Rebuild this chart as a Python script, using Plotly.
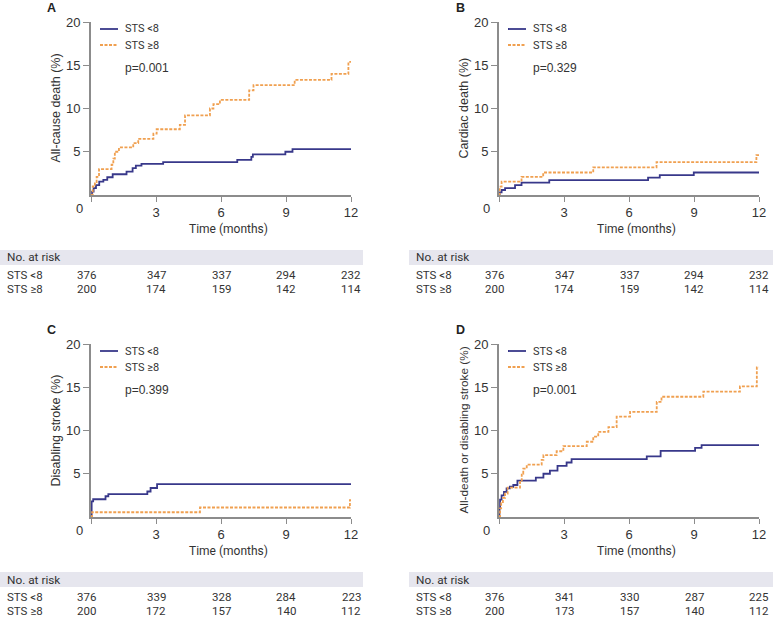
import plotly.graph_objects as go

W, H = 773, 617

# ---------------- data ----------------
months = [0, 3, 6, 9, 12]
groups = ["STS <8", "STS \u22658"]

A_low_t = [0, 0.05, 0.12, 0.23, 0.38, 0.57, 0.75, 1.0, 1.64, 1.92, 2.07, 2.33, 3.33, 6.75, 7.4, 7.47, 8.97, 9.3, 12]
A_low_v = [0, 0.4, 0.8, 1.15, 1.55, 1.75, 2.05, 2.4, 2.7, 3.1, 3.4, 3.6, 3.8, 4.05, 4.4, 4.7, 5.0, 5.3, 5.3]
A_high_t = [0, 0.08, 0.18, 0.26, 0.37, 0.95, 1.03, 1.1, 1.29, 1.95, 2.18, 2.88, 3.03, 4.1, 4.34, 5.49, 5.65, 5.95, 7.3, 7.5, 9.4, 11.1, 11.88, 12]
A_high_v = [0, 1.0, 1.5, 2.1, 3.0, 3.5, 4.2, 5.0, 5.5, 6.0, 6.5, 7.1, 7.6, 8.1, 9.2, 10.0, 10.5, 11.0, 12.1, 12.7, 13.3, 14.0, 15.4, 15.4]

B_low_t = [0, 0.03, 0.12, 0.28, 0.74, 1.04, 2.32, 6.88, 7.42, 8.99, 12]
B_low_v = [0, 0.3, 0.58, 0.8, 1.15, 1.42, 1.73, 2.0, 2.3, 2.6, 2.6]
B_high_t = [0, 0.03, 0.12, 1.04, 2.04, 4.35, 7.27, 11.88, 12]
B_high_v = [0, 0.96, 1.54, 2.1, 2.6, 3.2, 3.8, 4.6, 4.6]

C_low_t = [0, 0.03, 0.1, 0.67, 0.8, 2.6, 2.75, 3.05, 12]
C_low_v = [0, 1.8, 2.05, 2.4, 2.65, 2.95, 3.35, 3.8, 3.8]
C_high_t = [0, 0.05, 5.03, 11.95, 12]
C_high_v = [0, 0.55, 1.1, 1.95, 1.95]

D_low_t = [0, 0.02, 0.05, 0.12, 0.23, 0.35, 0.5, 0.66, 0.85, 1.7, 2.05, 2.35, 2.7, 3.12, 3.35, 6.82, 7.46, 9.05, 9.35, 12]
D_low_v = [0, 1.0, 2.0, 2.5, 2.9, 3.3, 3.5, 3.7, 4.2, 4.55, 5.0, 5.35, 5.9, 6.3, 6.7, 7.0, 7.65, 8.0, 8.3, 8.3]
D_high_t = [0, 0.05, 0.1, 0.18, 0.28, 0.4, 0.97, 1.05, 1.12, 1.28, 1.97, 2.05, 2.66, 2.97, 4.05, 4.35, 4.58, 5.05, 5.43, 6.05, 7.28, 7.5, 9.43, 11.12, 11.9, 12]
D_high_v = [0, 1.0, 1.6, 2.2, 2.7, 3.4, 4.2, 5.0, 5.6, 6.05, 6.6, 7.15, 7.6, 8.2, 8.7, 9.3, 9.85, 10.4, 11.6, 12.15, 13.3, 13.9, 14.5, 15.1, 17.3, 17.3]

A_risk_low = [376, 347, 337, 294, 232]
A_risk_high = [200, 174, 159, 142, 114]
B_risk_low = [376, 347, 337, 294, 232]
B_risk_high = [200, 174, 159, 142, 114]
C_risk_low = [376, 339, 328, 284, 223]
C_risk_high = [200, 172, 157, 140, 112]
D_risk_low = [376, 341, 330, 287, 225]
D_risk_high = [200, 173, 157, 140, 112]

letters = ["A", "B", "C", "D"]
ytitles = ["All-cause death (%)", "Cardiac death (%)", "Disabling stroke (%)",
           "All-death or disabling stroke (%)"]
pvalues = ["p=0.001", "p=0.329", "p=0.399", "p=0.001"]

# ---------------- styling ----------------
BLUE = "#38388a"
ORANGE = "#f0a050"
AXIS = "#8c8c8c"
TXT = "#333333"
BAND = "#e6e6ee"
FONT = "Liberation Sans, Arial, sans-serif"
TFONT = "Roboto, Liberation Sans, sans-serif"

def px(x):
    return x / W

def py(y):
    return (H - y) / H

def ann(x, y, text, size, family=FONT, xanchor="center", xref="paper", **kw):
    d = dict(x=x, y=y, xref=xref, yref="paper", text=text, showarrow=False,
             xanchor=xanchor, yanchor="middle",
             font=dict(family=family, size=size, color=kw.pop("color", TXT)))
    d.update(kw)
    return d

# panel geometry (pixels): x of axis origin, x of 12 months, y of 0%, y of 20%
panels = [
    dict(x0=91, x1=351, y0=195, y1=22, band=(0, 363), lab=5),
    dict(x0=499, x1=759, y0=195, y1=22, band=(409, 773), lab=414),
    dict(x0=91, x1=351, y0=517, y1=344, band=(0, 363), lab=5),
    dict(x0=499, x1=759, y0=517, y1=344, band=(409, 773), lab=414),
]
series = [
    (A_low_t, A_low_v, A_high_t, A_high_v, A_risk_low, A_risk_high),
    (B_low_t, B_low_v, B_high_t, B_high_v, B_risk_low, B_risk_high),
    (C_low_t, C_low_v, C_high_t, C_high_v, C_risk_low, C_risk_high),
    (D_low_t, D_low_v, D_high_t, D_high_v, D_risk_low, D_risk_high),
]

fig = go.Figure()
annotations = []
shapes = []
layout_axes = {}

for i, (p, s) in enumerate(zip(panels, series)):
    n = i + 1
    xa = "x" if n == 1 else f"x{n}"
    ya = "y" if n == 1 else f"y{n}"
    lt, lv, ht, hv, rl, rh = s

    fig.add_trace(go.Scatter(x=lt, y=lv, mode="lines", line=dict(color=BLUE, width=1.8, shape="hv"),
                             xaxis=xa, yaxis=ya, showlegend=False, name=groups[0]))
    fig.add_trace(go.Scatter(x=ht, y=hv, mode="lines",
                             line=dict(color=ORANGE, width=1.8, shape="hv", dash="3px,1.5px"),
                             xaxis=xa, yaxis=ya, showlegend=False, name=groups[1]))

    xkey = "xaxis" if n == 1 else f"xaxis{n}"
    ykey = "yaxis" if n == 1 else f"yaxis{n}"
    layout_axes[xkey] = dict(
        domain=[px(p["x0"]), px(p["x1"])], anchor=ya, range=[0, 12],
        tickvals=months, ticktext=[""] + [str(m) for m in months[1:]],
        ticks="outside", ticklen=5, tickcolor=AXIS, tickwidth=1,
        showline=True, linecolor=AXIS, linewidth=1.5, showgrid=False, zeroline=False,
        tickfont=dict(family=FONT, size=13, color=TXT), fixedrange=True, automargin=False,
    )
    layout_axes[ykey] = dict(
        domain=[py(p["y0"]), py(p["y1"])], anchor=xa, range=[0, 20],
        tickvals=[5, 10, 15, 20], ticks="outside", ticklen=6, tickcolor=AXIS, tickwidth=1,
        showline=True, linecolor=AXIS, linewidth=2, showgrid=False, zeroline=False,
        tickfont=dict(family=FONT, size=13, color=TXT), fixedrange=True, automargin=False,
    )

    # corner zero
    annotations.append(ann(px(p["x0"] - 12), py(p["y0"] + 13), "0", 13))
    # panel letter
    annotations.append(ann(px(p["x0"] - 39), py(p["y1"] - 14), f"<b>{letters[i]}</b>", 12.5, color="#222"))
    # y title
    annotations.append(ann(px(p["x0"] - 36), py((p["y0"] + p["y1"]) / 2), ytitles[i],
                           12.5 if i < 3 else 11.8, textangle=-90))
    # x title
    annotations.append(ann(px(p["x0"] + 137), py(p["y0"] + 34), "Time (months)", 12, family=TFONT))
    # legend
    for k, (col, dash) in enumerate([(BLUE, "solid"), (ORANGE, "3px,1.5px")]):
        yy = p["y1"] + 7 + 16 * k
        shapes.append(dict(type="line", xref="paper", yref="paper",
                           x0=px(p["x0"] + 9), x1=px(p["x0"] + 27), y0=py(yy), y1=py(yy),
                           line=dict(color=col, width=1.8, dash=dash)))
        annotations.append(ann(px(p["x0"] + 32), py(yy), groups[k], 11, family=TFONT, xanchor="left"))
    annotations.append(ann(px(p["x0"] + 32), py(p["y1"] + 46), pvalues[i], 12, xanchor="left"))

    # risk table
    by = p["y0"] + 55
    shapes.append(dict(type="rect", xref="paper", yref="paper", layer="below",
                       x0=px(p["band"][0]), x1=px(p["band"][1]), y0=py(by), y1=py(by + 15),
                       fillcolor=BAND, line=dict(width=0)))
    annotations.append(ann(px(p["lab"]), py(by + 7.5), "No. at risk", 11.8, family=TFONT, xanchor="left"))
    for r, (g, row) in enumerate([(groups[0], rl), (groups[1], rh)]):
        yy = by + 24.5 + 14.5 * r
        annotations.append(ann(px(p["lab"]), py(yy), g, 11.5, family=TFONT, xanchor="left"))
        for m, val in zip(months, row):
            annotations.append(ann(m, py(yy), str(val), 11.5, family=TFONT, xref=xa,
                                   xshift=-5 if m == 0 else 0))

fig.update_layout(
    width=W, height=H, margin=dict(l=0, r=0, t=0, b=0, autoexpand=False),
    paper_bgcolor="white", plot_bgcolor="white",
    annotations=annotations, shapes=shapes, showlegend=False,
    **layout_axes,
)

fig.write_html("out.html", config={"displayModeBar": False},
               post_script="document.body.style.margin='0px';document.body.style.padding='0px';"
                           "document.body.style.overflow='hidden';")
